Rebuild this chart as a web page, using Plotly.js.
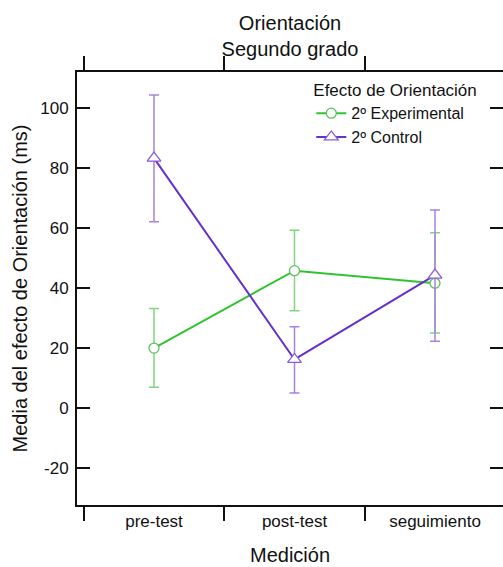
<!DOCTYPE html>
<html>
<head>
<meta charset="utf-8">
<script src="https://cdn.plot.ly/plotly-3.0.1.min.js"></script>
<style>html,body{margin:0;padding:0;background:#fff;}#chart{width:503px;height:567px;}</style>
</head>
<body>
<div id="chart"></div>
<script>
const categories = ["pre-test", "post-test", "seguimiento"];
const expMean  = [20.0, 45.8, 41.6];
const expUpper = [33.2, 59.3, 58.4];
const expLower = [6.9, 32.4, 25.0];
const ctlMean  = [83.3, 16.2, 44.3];
const ctlUpper = [104.3, 27.1, 66.0];
const ctlLower = [62.1, 5.0, 22.3];
const yTicks = [-20, 0, 20, 40, 60, 80, 100];

const FONT = "Liberation Sans, Arial, sans-serif";
const green = "#2fc42f", greenErr = "#7fd67f";
const purple = "#6630cc", purpleErr = "#a783e0";

function diff(a, b) { return a.map((v, i) => v - b[i]); }

const traces = [
  {
    x: categories, y: expMean, name: "2º Experimental", type: "scatter", mode: "lines+markers",
    line: {color: green, width: 2},
    marker: {symbol: "circle", size: 10, color: "#ffffff", line: {width: 1.3, color: "#5cc05c"}},
    error_y: {type: "data", symmetric: false, array: diff(expUpper, expMean), arrayminus: diff(expMean, expLower),
              color: greenErr, thickness: 1.5, width: 5}
  },
  {
    x: categories, y: ctlMean, name: "2º Control", type: "scatter", mode: "lines+markers",
    line: {color: purple, width: 2},
    marker: {symbol: "triangle-up", size: 12, color: "#ffffff", line: {width: 1.3, color: "#8a5ad8"}},
    error_y: {type: "data", symmetric: false, array: diff(ctlUpper, ctlMean), arrayminus: diff(ctlMean, ctlLower),
              color: purpleErr, thickness: 1.5, width: 5}
  }
];

const layout = {
  width: 503, height: 567,
  margin: {l: 77, r: 0, t: 72, b: 62},
  paper_bgcolor: "#fff", plot_bgcolor: "#fff",
  font: {family: FONT, size: 14, color: "#111"},
  showlegend: true,
  title: {text: "Orientación<br>Segundo grado", x: 0.5, xref: "paper", xanchor: "center",
          y: 1 - 30/567, yref: "container", yanchor: "middle", font: {size: 20, family: FONT, color: "#111"}},
  xaxis: {
    type: "category", range: [-0.548, 2.484], tickson: "boundaries",
    showline: true, linecolor: "#111", linewidth: 2, mirror: "ticks",
    ticks: "outside", ticklen: 14, tickwidth: 2, tickcolor: "#111",
    showgrid: false, zeroline: false,
    tickfont: {size: 17, family: FONT, color: "#111"},
    title: {text: "Medición", font: {size: 20, family: FONT, color: "#111"}, standoff: 18}
  },
  yaxis: {
    range: [-32.3, 112], tickvals: yTicks, ticktext: yTicks.map(String),
    showline: true, linecolor: "#111", linewidth: 2, mirror: "ticks",
    ticks: "inside", ticklen: 13, tickwidth: 2, tickcolor: "#111",
    showgrid: false, zeroline: false, ticklabelstandoff: 3,
    tickfont: {size: 17, family: FONT, color: "#111"},
    title: {text: "Media del efecto de Orientación (ms)", font: {size: 20, family: FONT, color: "#111"}, standoff: 7}
  },
  legend: {
    title: {text: "Efecto de Orientación", font: {size: 17, family: FONT, color: "#111"}},
    x: 0.55, y: 0.995, xanchor: "left", yanchor: "top",
    bgcolor: "rgba(255,255,255,0)", borderwidth: 0,
    font: {size: 16, family: FONT, color: "#111"},
    tracegroupgap: 0, itemwidth: 30
  }
};

Plotly.newPlot("chart", traces, layout, {displayModeBar: false, staticPlot: true});
</script>
</body>
</html>
